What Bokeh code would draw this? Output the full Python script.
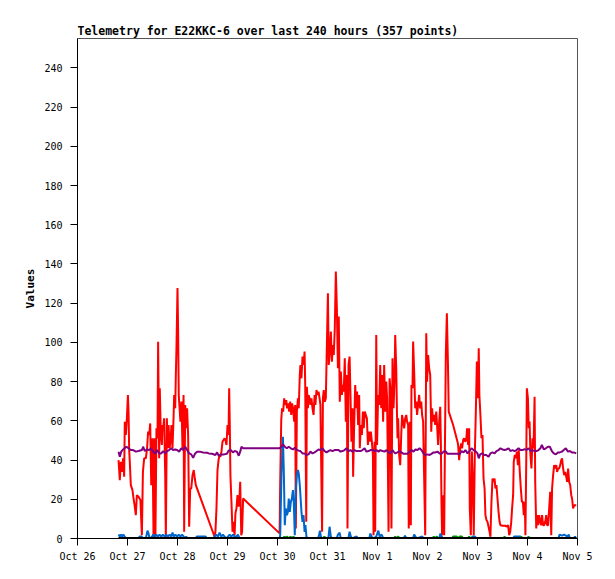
from bokeh.plotting import figure
from bokeh.models import Range1d, FixedTicker
from bokeh.embed import file_html
from bokeh.resources import INLINE

TITLE = "Telemetry for E22KKC-6 over last 240 hours (357 points)"
Y_LABEL = "Values"

# x ticks: hours since Oct 26 00:00
tick_hours = [0, 24, 48, 72, 96, 120, 144, 168, 192, 216, 240]
tick_labels = ["Oct 26", "Oct 27", "Oct 28", "Oct 29", "Oct 30", "Oct 31",
               "Nov 1", "Nov 2", "Nov 3", "Nov 4", "Nov 5"]
y_ticks = [0, 20, 40, 60, 80, 100, 120, 140, 160, 180, 200, 220, 240]

red_h = [19.7, 20.3, 20.8, 21.3, 21.9, 22.4, 22.7, 23.2, 23.7, 24.2, 24.5, 24.8, 25.1, 25.6,
         26.4, 26.9, 27.4, 28.0, 28.5, 29.3, 30.2, 30.9, 31.4, 32.0, 32.8, 33.4, 33.9, 34.4,
         34.9, 35.4, 36.0, 36.5, 37.0, 37.4, 37.9, 38.4, 38.7, 39.2, 39.5, 40.0, 40.5, 40.8,
         41.1, 41.6, 42.1, 42.4, 42.9, 43.2, 43.7, 44.2, 44.6, 45.1, 45.6, 46.1, 46.4, 46.9,
         47.2, 47.5, 48.0, 48.3, 48.6, 49.0, 49.4, 49.9, 50.4, 50.9, 51.2, 51.7, 52.2, 52.6,
         53.1, 53.6, 54.1, 54.6, 55.2, 55.8, 56.3, 56.8,
         65.8, 66.2, 66.7, 67.2, 67.7, 68.2, 68.6, 69.1, 69.6, 70.1, 70.6, 71.0, 71.5, 72.0,
         72.5, 72.8, 73.1, 73.4, 73.9, 74.4, 74.9, 75.4, 75.8, 76.3, 76.8, 77.3, 77.8, 78.1,
         78.6, 79.0, 79.5,
         97.0, 97.3, 97.8, 98.2, 98.7, 99.2, 99.7, 100.2, 100.6, 101.1, 101.6, 102.1, 102.6,
         103.0, 103.5, 104.0, 104.5, 104.8, 105.3, 105.8, 106.2, 106.7,
         107.0, 107.5, 108.0, 108.5, 109.0, 109.3, 109.8, 110.1, 110.6, 110.9, 111.4, 111.8,
         112.3, 112.8, 113.3, 113.8, 114.2, 114.7, 115.2, 115.7, 116.2, 116.6, 117.0, 117.4,
         117.8, 118.2, 118.7, 119.2, 119.7, 120.2, 120.6, 121.1, 121.6, 122.1, 122.6, 123.0,
         123.5, 124.0, 124.5, 125.0, 125.4, 125.9, 126.4, 126.9, 127.4, 127.8, 128.3, 128.8,
         129.3, 129.6, 130.1, 130.6, 131.0, 131.5, 132.0, 132.3, 132.8, 133.3, 133.8, 134.2,
         134.7, 135.2, 135.5, 136.0, 136.5, 137.0, 137.4, 137.9, 138.4, 138.9, 139.4, 139.8,
         140.3, 140.8, 141.3, 141.8, 142.1, 142.6, 142.9, 143.4, 143.8, 144.3, 144.8, 145.3,
         145.8, 146.2, 146.7, 147.2, 147.7, 148.2, 148.6, 149.0, 149.3, 149.8, 150.2, 150.7,
         151.2, 151.7, 152.2, 152.5, 153.0, 153.3, 153.6, 153.9, 154.4, 154.9, 155.4, 155.8,
         156.3, 156.8, 157.3, 157.8, 158.2, 158.7, 159.0, 159.5, 160.0, 160.3, 160.8, 161.1,
         161.6, 162.1, 162.6, 163.0, 163.5, 164.0, 164.5, 165.0, 165.4, 165.9, 166.4, 166.9,
         167.4, 167.8, 168.3, 168.8, 169.3, 169.8, 170.2, 170.7, 171.2, 171.7, 172.2, 172.6,
         173.1, 173.6, 174.1, 174.4, 174.7, 175.0, 175.5, 176.0, 176.3, 176.8, 177.3, 177.8,
         178.2, 180.3, 182.4, 182.7, 183.2, 183.7, 184.2, 184.6, 185.1, 185.6, 186.1, 186.6,
         187.0, 187.5, 188.0, 188.3, 188.8, 189.3, 189.8, 190.2, 190.7, 191.2, 191.7, 192.2,
         192.6, 192.9, 193.4, 193.9, 194.4, 194.9, 195.4, 195.8, 196.3,
         196.8, 197.3, 197.8, 198.2, 198.7, 199.2, 199.7, 200.2, 200.6, 201.1, 201.6, 202.1,
         202.6, 203.0, 204.2, 205.3, 206.2, 206.7, 207.2, 207.7, 208.2, 208.6, 209.1, 209.4,
         209.9, 210.4, 210.9, 211.4, 211.8, 212.3, 212.8, 213.3, 213.8, 214.2, 214.7, 215.0,
         215.4, 215.7, 216.2, 216.6, 217.0, 217.4, 217.9, 218.4, 218.9, 219.4, 219.7, 220.2,
         220.6, 221.1, 221.6, 222.1, 222.6, 223.0, 223.5, 224.0, 224.5, 225.0, 225.4, 225.9,
         226.4, 226.9, 227.4, 227.8, 228.3, 228.8, 229.3, 229.8, 230.2, 230.7, 231.2, 231.7,
         232.2, 232.6, 233.1, 233.6, 234.1, 234.6, 235.0, 235.5, 236.0, 236.5, 237.0, 237.4,
         237.9, 238.4, 238.9, 239.4]
red_v = [40.0, 29.8, 39.1, 34.0, 40.9, 31.5, 59.6, 52.8, 61.3, 73.2, 64.7, 45.1, 39.1, 27.2,
         24.7, 20.4, 17.0, 11.9, 22.1, 21.3, 19.6, 1.7, 34.0, 40.9, 40.9, 46.0, 54.5, 52.8,
         58.7, 27.2, 51.1, 0.0, 51.1, 0.0, 56.2, 51.1, 100.4, 40.9, 76.6, 52.8, 47.7, 57.9,
         56.2, 61.3, 32.3, 0.0, 61.3, 46.0, 57.9, 46.0, 49.4, 57.9, 46.0, 61.3, 73.2, 66.4,
         83.4, 97.0, 127.7, 105.5, 73.2, 66.4, 59.6, 69.8, 46.0, 73.2, 3.4, 68.1, 56.2, 66.4,
         52.8, 6.0, 25.5, 25.5, 32.3, 34.9, 30.6, 27.2,
         0.9, 3.4, 15.3, 34.9, 40.0, 42.6, 41.7, 44.3, 49.4, 50.2, 51.1, 50.2, 47.7, 57.9,
         52.8, 76.6, 57.9, 32.3, 18.7, 3.4, 8.5, 1.7, 12.8, 15.3, 22.1, 16.2, 22.1, 28.9,
         1.7, 3.4, 20.4,
         2.6, 28.9, 60.4, 66.4, 64.7, 71.5, 68.1, 70.6, 66.4, 68.9, 64.7, 69.8, 63.0,
         68.9, 66.4, 59.6, 68.1, 5.1, 64.7, 71.5, 66.4, 83.4,
         88.5, 81.7, 92.8, 88.5, 95.3, 78.3, 8.5, 77.4, 66.4, 73.2, 71.5, 68.1,
         71.5, 66.4, 63.0, 73.2, 68.1, 75.7, 73.2, 74.9, 71.5, 68.1, 35.7, 3.4,
         71.5, 75.7, 69.8, 71.5, 98.7, 125.1, 88.5, 95.3, 105.5, 90.2, 98.7, 93.6,
         107.2, 136.2, 117.4, 86.8, 113.2, 69.8, 85.1, 73.2, 78.3, 74.9, 91.9, 59.6,
         83.4, 5.1, 88.5, 92.8, 74.9, 49.4, 66.4, 31.5, 57.9, 78.3, 66.4, 74.9,
         57.9, 73.2, 46.0, 57.9, 52.8, 64.7, 56.2, 64.7, 63.0, 61.3, 47.7, 54.5,
         49.4, 54.5, 49.4, 42.6, 1.7, 49.4, 3.4, 103.8, 47.7, 73.2, 68.1, 88.5,
         66.4, 83.4, 59.6, 88.5, 64.7, 80.0, 71.5, 35.7, 3.4, 81.7, 76.6, 5.1,
         91.9, 66.4, 81.7, 103.8, 86.8, 66.4, 51.1, 61.3, 42.6, 37.4, 52.8, 63.0,
         59.6, 56.2, 61.3, 63.0, 59.6, 57.9, 5.1, 59.6, 6.8, 78.3, 76.6, 100.4,
         85.1, 66.4, 69.8, 63.0, 68.1, 73.2, 66.4, 69.8, 63.0, 59.6, 30.6, 1.7,
         104.7, 80.0, 93.6, 86.8, 83.4, 54.5, 66.4, 59.6, 63.0, 57.9, 64.7, 57.9,
         47.7, 59.6, 67.2, 49.4, 18.7, 1.7, 22.1, 1.7, 39.1, 94.5, 114.9, 90.2,
         64.7, 57.9, 49.4, 47.7, 40.0, 46.0, 48.5, 46.0, 50.2, 51.1, 49.4, 50.2,
         56.2, 47.7, 56.2, 15.3, 1.7, 44.3, 27.2, 1.7, 42.6, 64.7, 90.2, 71.5,
         97.0, 73.2, 63.0, 51.1, 52.8, 30.6, 25.5, 11.9, 9.4,
         8.5, 6.0, 3.4, 0.9, 18.7, 30.6, 28.9, 30.6, 25.5, 27.2, 20.4, 13.6,
         8.5, 6.8, 6.5, 6.5, 6.0, 6.8, 1.7, 3.4, 8.5, 15.3, 22.1, 39.1,
         42.6, 40.9, 44.3, 37.4, 45.1, 34.0, 25.5, 18.7, 18.7, 11.9, 18.7, 1.7,
         39.1, 76.6, 71.5, 56.2, 59.6, 42.6, 35.7, 51.1, 46.0, 72.3, 28.9, 5.1,
         11.9, 6.8, 11.9, 8.5, 6.8, 11.9, 6.8, 6.8, 8.5, 11.9, 6.8, 6.8,
         15.3, 23.8, 1.7, 25.5, 32.3, 37.4, 35.7, 37.4, 34.0, 35.7, 35.7, 37.4,
         40.0, 40.9, 35.7, 32.3, 34.0, 31.5, 28.9, 35.7, 28.9, 27.2, 22.1, 20.4,
         15.3, 17.0, 17.0, 17.0]

purple_h = [19.7, 20.3, 21.0, 21.6, 22.6, 23.5, 24.5, 25.6, 26.7, 28.0, 29.3, 30.9, 31.5, 32.3,
            33.3, 34.4, 35.4, 36.3, 37.3, 38.2, 39.2, 40.2, 41.1, 42.1, 43.0, 44.0, 45.0, 45.9,
            46.9, 47.8, 48.8, 49.8, 50.7, 51.7, 52.6, 53.6, 54.6, 55.5, 56.5, 57.4, 58.7, 60.3,
            62.2, 63.0, 64.6, 66.2, 67.0, 67.8, 69.1, 70.4, 71.7, 72.6, 73.6, 74.6, 75.5, 76.5,
            77.4, 78.1, 78.7, 79.5, 97.0, 97.9, 98.6, 99.5, 100.5, 101.4, 102.4, 103.4, 104.3,
            105.3, 106.2, 107.0, 108.0, 109.0, 109.9, 110.9, 111.8, 112.8, 113.8, 114.7, 115.7,
            116.6, 117.6, 118.6, 119.5, 120.5, 121.4, 122.4, 123.4, 124.3, 125.3, 126.2, 127.2,
            128.2, 129.1, 130.1, 131.0, 132.0, 133.0, 133.9, 134.9, 135.8, 136.8, 137.8, 138.7,
            139.7, 140.6, 141.6, 142.6, 143.5, 144.5, 145.4, 146.4, 147.4, 148.3, 149.3, 150.2,
            151.2, 151.7, 152.6, 153.6, 154.6, 155.5, 156.5, 157.4, 158.4, 159.4, 160.3, 161.3,
            162.2, 163.2, 164.2, 165.1, 166.1, 167.0, 168.0, 169.0, 169.9, 170.9, 171.8, 172.8,
            173.8, 174.7, 175.7, 176.6, 177.6, 178.6, 179.5, 180.5, 181.4, 182.4, 183.4, 184.3,
            185.3, 186.2, 187.2, 188.2, 189.1, 190.1, 191.0, 192.0, 192.6, 193.3, 194.2, 195.2,
            196.2, 197.3, 198.2, 199.2, 200.2, 201.1, 202.1, 203.0, 204.0, 205.0, 205.9, 206.9,
            207.8, 208.8, 209.8, 210.7, 211.7, 212.6, 213.6, 214.6, 215.5, 216.5, 217.4, 218.4,
            219.4, 220.3, 221.3, 222.2, 222.9, 223.8, 224.8, 225.8, 226.7, 227.7, 228.6, 229.6,
            230.6, 231.5, 232.5, 233.4, 234.4, 235.4, 236.3, 237.3, 238.2, 239.4]
purple_v = [44.3, 41.7, 44.3, 45.1, 46.0, 46.8, 46.0, 45.1, 45.1, 44.3, 44.6, 45.1, 46.8, 44.6,
            45.4, 45.1, 46.0, 44.3, 43.4, 45.1, 43.4, 43.4, 44.6, 43.4, 44.6, 45.1, 46.0, 45.1,
            45.4, 45.1, 44.3, 46.0, 45.1, 46.8, 45.1, 43.4, 42.9, 41.2, 43.4, 44.3, 44.3, 43.9,
            43.7, 43.4, 43.2, 42.6, 43.9, 42.2, 42.9, 42.9, 43.2, 44.9, 45.1, 43.9, 44.6, 44.3,
            42.2, 44.3, 46.8, 46.0, 46.0, 46.8, 48.0, 46.8, 46.0, 46.8, 46.0, 45.4, 46.3,
            45.1, 44.8, 44.6, 43.4, 43.4, 42.6, 42.9, 44.3, 43.4, 43.9, 44.6, 45.4,
            45.1, 46.0, 44.6, 43.9, 44.6, 45.1, 44.6, 45.1, 45.1, 45.1, 44.3, 44.6,
            45.1, 46.0, 44.6, 45.1, 44.3, 45.1, 44.6, 44.6, 44.6, 45.1, 46.0, 44.3,
            44.6, 45.1, 45.1, 44.6, 45.1, 44.3, 45.1, 44.6, 44.3, 45.1, 43.9, 43.4,
            45.1, 44.3, 43.4, 43.9, 44.6, 43.9, 43.2, 43.2, 43.2, 44.3, 45.1, 44.3,
            45.4, 45.1, 46.0, 45.1, 43.4, 42.6, 42.9, 42.6, 43.2, 43.9, 43.9, 44.3,
            43.4, 43.2, 44.3, 44.6, 43.2, 43.2, 43.2, 43.2, 43.2, 43.2, 42.9, 44.6,
            43.9, 45.1, 43.4, 44.6, 46.0, 45.1, 44.6, 43.4, 40.9, 42.9, 43.4, 42.6,
            42.6, 41.7, 43.4, 43.9, 43.4, 44.6, 45.1, 46.0, 45.4, 45.1, 45.4, 46.0,
            44.6, 45.1, 44.6, 45.1, 46.0, 45.1, 45.1, 45.6, 45.1, 46.0, 44.6, 45.1,
            44.6, 44.6, 45.1, 46.0, 47.7, 45.4, 46.0, 46.8, 46.8, 44.6, 43.4, 42.9,
            43.9, 43.9, 44.3, 45.1, 46.0, 44.3, 44.6, 43.9, 43.9, 43.4]

blue_h = [19.7, 20.3, 20.8, 21.4, 22.0, 22.6, 23.2, 29.3, 29.8, 30.8, 31.3, 32.8, 33.2, 33.6,
          34.0, 34.4, 35.2, 35.8, 36.4, 37.0, 37.8, 38.6, 39.4, 40.2, 41.0, 41.8, 42.6, 43.4,
          44.2, 45.0, 45.6, 46.2, 47.0, 47.8, 48.6, 49.4, 50.2, 51.0, 51.6, 52.2, 52.8, 56.8,
          57.2, 59.0, 61.5, 62.0, 65.2, 65.8, 66.6, 67.4, 68.2, 69.0, 69.8, 70.6, 71.4, 72.2,
          73.0, 73.8, 74.6, 75.4, 76.2, 77.0, 77.8, 97.0, 97.3, 97.9, 98.6, 99.0, 99.5, 100.0,
          100.5, 101.0, 101.4, 101.9, 102.4, 102.9, 103.4, 103.8, 104.3, 104.8, 105.3, 105.8,
          106.2, 106.7, 107.0, 107.5, 108.0, 108.5, 109.0, 109.4, 109.9, 110.4, 115.5, 116.0,
          116.4, 116.8, 117.3, 120.4, 121.0, 121.6, 122.2, 124.4, 125.0, 125.8, 126.4, 130.0,
          130.6, 131.2, 131.8, 134.0, 134.6, 140.0, 140.6, 141.2, 142.0, 143.4, 144.4, 145.0,
          146.0, 146.8, 156.6, 157.2, 157.8, 161.0, 161.6, 162.2, 162.8, 165.5, 166.2, 173.6,
          174.2, 174.8, 175.4, 189.0, 189.6, 190.8, 191.4, 209.0, 209.6, 212.6, 213.2, 230.8,
          231.4, 232.6, 233.6, 235.2, 235.8, 236.4, 238.2, 238.8, 239.4]
blue_v = [2, 1, 2, 1, 2, 1, 0, 0, 1, 1, 0, 0, 2, 4,
          3, 1, 0, 1, 2, 1, 2, 1, 2, 1, 2, 1, 2, 1,
          2, 1, 3, 1, 2, 1, 2, 1, 2, 1, 0, 1, 0, 0,
          1, 1, 1, 0, 0, 1, 2, 1, 3, 1, 2, 1, 0, 1,
          2, 1, 2, 1, 1, 2, 0, 0, 1.7, 32.3, 51.9, 35.7, 6.8, 15.3,
          11.9, 13.6, 20.4, 13.6, 18.7, 20.4, 24.7, 18.7, 1.7, 25.5, 32.3, 34.9,
          33.2, 27.2, 22.1, 13.6, 8.5, 11.9, 3.4, 6.8, 1, 0, 0, 2,
          4, 1, 0, 0, 6, 1, 0, 0, 2, 3, 0, 0,
          3.5, 1, 0, 1, 0, 0, 2.5, 1, 0, 1, 4, 1,
          2, 0, 0, 1.5, 0, 0, 2, 1, 0, 1, 0, 0,
          2.5, 1, 0, 0, 1, 1, 0, 0, 1, 1, 0, 0,
          2, 1.5, 2, 1, 2, 0, 0, 1, 0]

green_h = [19.7, 98.8, 99.3, 99.8, 100.5, 101.5, 102.2, 103.0, 103.6, 104.2, 118.0, 118.5,
           119.0, 152.0, 152.5, 153.0, 154.0, 154.5, 170.5, 171.0, 171.5, 172.5, 173.0, 179.8,
           180.3, 182.0, 182.5, 183.5, 184.5, 185.0, 187.5, 188.0, 188.5, 204.5, 205.0, 205.5,
           212.5, 213.0, 213.5, 216.0, 216.5, 217.0, 239.4]
green_v = [0, 0, 1, 0, 1, 0, 1, 0, 1, 0, 0, 1,
           0, 0, 1, 0, 1, 0, 0, 1, 0, 1, 0, 0,
           1, 1, 0, 1, 1, 0, 0, 1, 0, 0, 1, 0,
           0, 1, 0, 0, 1, 0, 0]

zero_h = [19.7, 239.4]
zero_v = [0, 0]

MONO = "DejaVu Sans Mono"

p = figure(width=607, height=571, output_backend="svg", toolbar_location=None,
           x_range=Range1d(0, 240), y_range=Range1d(0, 255),
           min_border_left=77, min_border_right=30, min_border_top=38, min_border_bottom=33,
           title=TITLE)
p.background_fill_color = "white"
p.border_fill_color = "white"
p.outline_line_color = "#555555"
p.outline_line_width = 1
p.xgrid.visible = False
p.ygrid.visible = False

p.title.text_font = MONO
p.title.text_font_size = "11.5px"
p.title.text_font_style = "bold"
p.title.text_color = "black"
p.title.align = "left"
p.title.standoff = 2
p.title.offset = 0

p.line(red_h, red_v, line_color="#ff0000", line_width=2)
p.line(blue_h, blue_v, line_color="#0066cc", line_width=2)
p.line(green_h, green_v, line_color="#009900", line_width=2)
p.line(purple_h, purple_v, line_color="#800080", line_width=2)
p.line(zero_h, zero_v, line_color="black", line_width=3)

for ax in (p.xaxis, p.yaxis):
    ax.axis_line_color = "black"
    ax.axis_line_width = 1
    ax.major_tick_line_color = "black"
    ax.major_tick_in = 0
    ax.major_tick_out = 7
    ax.minor_tick_line_color = None
    ax.major_label_text_font = MONO
    ax.major_label_text_font_size = "10px"
    ax.major_label_text_color = "black"

p.xaxis.ticker = FixedTicker(ticks=tick_hours)
p.xaxis.major_label_overrides = {h: lab for h, lab in zip(tick_hours, tick_labels)}
p.xaxis.major_label_standoff = 5
p.yaxis.ticker = FixedTicker(ticks=y_ticks)
p.yaxis.major_label_standoff = 8
p.yaxis.axis_label = Y_LABEL
p.yaxis.axis_label_text_font = MONO
p.yaxis.axis_label_text_font_size = "11px"
p.yaxis.axis_label_text_font_style = "bold"
p.yaxis.axis_label_text_color = "black"
p.yaxis.axis_label_standoff = 4

open("out.html", "w").write(file_html(p, INLINE))
